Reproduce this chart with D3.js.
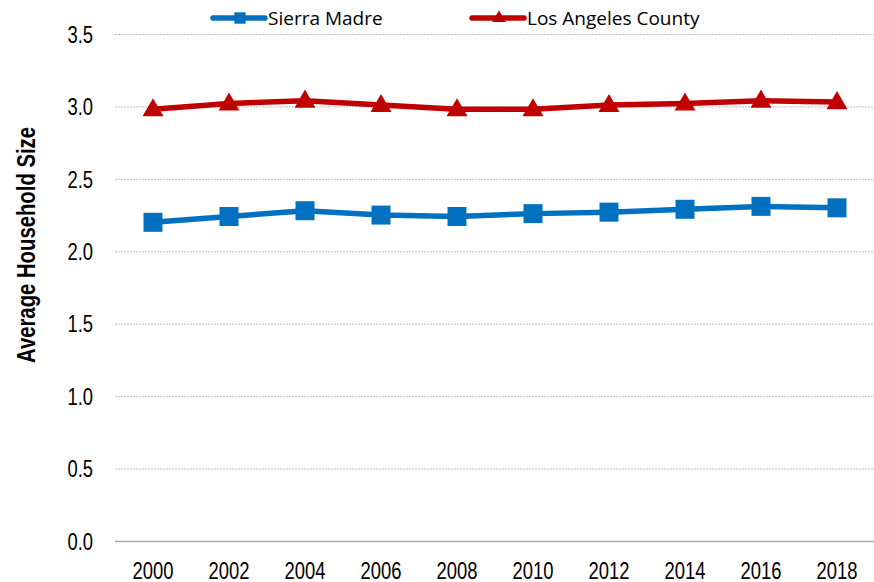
<!DOCTYPE html>
<meta charset="utf-8">
<head>
    <style>
        body { margin: 0; background: #fff; }
        .tick text { font-family: "Liberation Sans", Arial, sans-serif; font-size: 23px; fill: #000; }
        .grid line { stroke: #bfbfbf; stroke-dasharray: 2,1; }
    </style>
</head>
<body>
    <svg width="874" height="582"></svg>
</body>
<script src="https://d3js.org/d3.v7.min.js"></script>
<script>

    var years = ["2000", "2002", "2004", "2006", "2008", "2010", "2012", "2014", "2016", "2018"];
    var sierraMadre = [2.20, 2.24, 2.28, 2.25, 2.24, 2.26, 2.27, 2.29, 2.31, 2.30];
    var laCounty = [2.98, 3.02, 3.04, 3.01, 2.98, 2.98, 3.01, 3.02, 3.04, 3.03];
    var yTicks = [0, 0.5, 1, 1.5, 2, 2.5, 3, 3.5];

    var series = [
        { name: "Sierra Madre", values: sierraMadre, color: "#0070C0", marker: "square" },
        { name: "Los Angeles County", values: laCounty, color: "#C00000", marker: "triangle" }
    ];

    var svg = d3.select("svg"),
        plotLeft = 115, plotRight = 875, plotTop = 34, plotBottom = 541;

    var x = d3.scaleBand().domain(years).range([plotLeft, plotRight]);
    var y = d3.scaleLinear().domain([0, 3.5]).range([plotBottom, plotTop]);

    // squeeze text horizontally, the original uses a narrow font
    function narrow(sel, k) {
        sel.each(function () {
            var len = this.getComputedTextLength();
            d3.select(this).attr("textLength", len * k).attr("lengthAdjust", "spacingAndGlyphs");
        });
    }

    // gridlines
    svg.append("g")
        .attr("class", "grid")
        .selectAll("line")
        .data(yTicks.slice(1))
        .enter().append("line")
        .attr("x1", plotLeft)
        .attr("x2", plotRight)
        .attr("y1", function (d) { return y(d) + 0.5; })
        .attr("y2", function (d) { return y(d) + 0.5; });

    // y axis labels
    var yAxis = svg.append("g")
        .attr("transform", "translate(93,0)")
        .call(d3.axisLeft(y).tickValues(yTicks).tickFormat(d3.format(".1f")).tickSize(0).tickPadding(0));
    yAxis.select(".domain").remove();
    yAxis.selectAll("text").attr("dy", "0.36em").call(narrow, 0.8);

    // x axis
    var xAxis = svg.append("g")
        .attr("transform", "translate(0," + plotBottom + ")")
        .call(d3.axisBottom(x).tickSize(0).tickPadding(0));
    xAxis.select(".domain").attr("stroke", "#a6a6a6").attr("stroke-width", 1.5)
        .attr("d", "M" + plotLeft + ",0.5H" + plotRight);
    xAxis.selectAll("text").attr("dy", null).attr("y", 38).call(narrow, 0.8);

    svg.append("text")
        .attr("transform", "translate(35,245) rotate(-90)")
        .attr("text-anchor", "middle")
        .style("font-family", "'Liberation Sans', Arial, sans-serif")
        .style("font-weight", "bold")
        .style("font-size", "26px")
        .text("Average Household Size")
        .attr("textLength", 236)
        .attr("lengthAdjust", "spacingAndGlyphs");

    var line = d3.line()
        .x(function (d, i) { return x(years[i]) + x.bandwidth() / 2; })
        .y(function (d) { return y(d); });

    var sym = {
        square: d3.symbol().type(d3.symbolSquare),
        triangle: d3.symbol().type(d3.symbolTriangle)
    };

    series.forEach(function (s) {
        var g = svg.append("g");
        g.append("path")
            .attr("d", line(s.values))
            .attr("fill", "none")
            .attr("stroke", s.color)
            .attr("stroke-width", 5.5)
            .attr("stroke-linejoin", "round");
        g.selectAll("path.m")
            .data(s.values)
            .enter().append("path")
            .attr("class", "m")
            .attr("d", s.marker == "square" ? sym.square.size(361)() : sym.triangle.size(190)())
            .attr("transform", function (d, i) {
                var dy = s.marker == "square" ? 0 : 1;
                return "translate(" + (x(years[i]) + x.bandwidth() / 2) + "," + (y(d) + dy) + ")";
            })
            .attr("fill", s.color);
    });

    // legend
    var legendX = [213, 472];
    var legend = svg.append("g").selectAll("g")
        .data(series)
        .enter().append("g")
        .attr("transform", function (d, i) { return "translate(" + legendX[i] + ",18)"; });
    legend.append("line")
        .attr("x1", 0).attr("x2", 52)
        .attr("stroke", function (d) { return d.color; })
        .attr("stroke-width", 5.5)
        .attr("stroke-linecap", "round");
    legend.append("path")
        .attr("d", function (d) { return d.marker == "square" ? sym.square.size(130)() : sym.triangle.size(80)(); })
        .attr("transform", "translate(27,0)")
        .attr("fill", function (d) { return d.color; });
    legend.append("text")
        .attr("x", 55)
        .attr("dy", "0.35em")
        .style("font-family", "'Open Sans', 'Noto Sans', sans-serif")
        .style("font-size", "19px")
        .text(function (d) { return d.name; });

</script>
